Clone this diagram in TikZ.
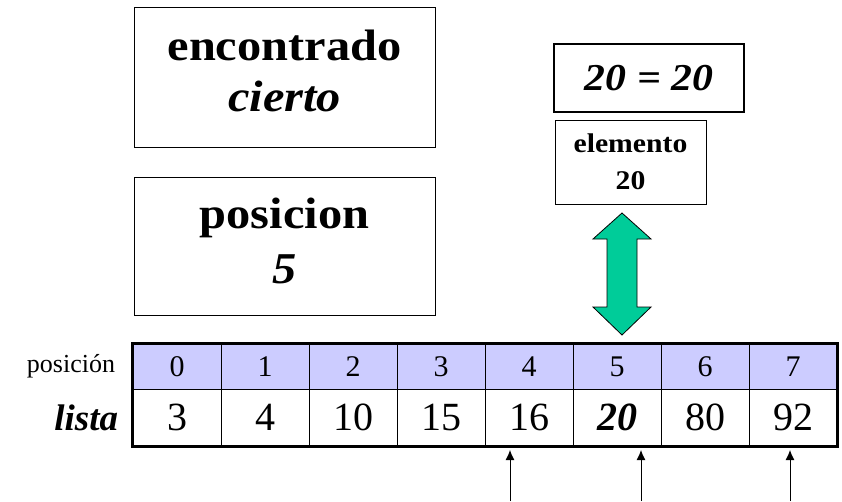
\documentclass[tikz,border=0pt]{standalone}
\usepackage{fontspec}
\usetikzlibrary{arrows.meta,positioning}
\setmainfont{Liberation Serif}
\newfontfamily\anchafont{Liberation Serif}[FakeStretch=1.1]

\definecolor{cabecera}{rgb}{0.8,0.8,1}
\definecolor{flecha}{rgb}{0,0.8,0.6}

\tikzset{
    caja/.style={draw=black, line width=1pt, inner sep=0pt, align=center},
    celda/.style={draw=black, line width=0.8pt, minimum width=88pt, inner sep=0pt},
    cabezal/.style={celda, fill=cabecera, minimum height=45pt, font=\fontsize{30}{32}\selectfont},
    valor/.style={celda, minimum height=57pt, font=\fontsize{40}{42}\selectfont},
    puntero/.style={black, line width=1pt, -{Latex[length=10pt,width=9pt]}}
}

\begin{document}
\begin{tikzpicture}[x=1pt, y=-1pt]
            \useasboundingbox (0,0) rectangle (842,501);

            \node[caja, minimum width=301pt, minimum height=140pt,
                  font=\anchafont\fontsize{44}{51}\selectfont\bfseries] (encontrado) at (284.5,77)
                  {encontrado\\\textit{cierto}\rule[-12pt]{0pt}{0pt}};
            \node[caja, minimum width=301pt, minimum height=138pt,
                  font=\anchafont\fontsize{44}{55}\selectfont\bfseries] (posicion) at (284.5,246)
                  {posicion\\\textit{5}\rule[-10pt]{0pt}{0pt}};
            \node[caja, line width=2.5pt, minimum width=190pt, minimum height=68pt,
                  font=\anchafont\fontsize{38}{44}\selectfont\bfseries\itshape] (compara) at (649,78)
                  {20 = 20};
            \node[caja, minimum width=151pt, minimum height=84pt,
                  font=\anchafont\fontsize{27}{37}\selectfont\bfseries] (elemento) at (630.5,162)
                  {elemento\\20};

            % flecha doble
            \filldraw[fill=flecha, draw=black, line width=0.8pt]
                (622,213) -- (651,239) -- (637,239) -- (637,307) -- (651,307) -- (622,335)
                -- (593,307) -- (607,307) -- (607,239) -- (593,239) -- cycle;

            \foreach \v [count=\i from 0] in {3,4,10,15,16,{\bfseries\itshape 20},80,92} {
                \node[cabezal] (pos\i) at (177+88*\i,366.5) {\i};
                \node[valor] (val\i) at (177+88*\i,417.5) {\v};
            }
            \draw[black, line width=2.5pt] (pos0.north west) rectangle (val7.south east);

            \node[left=14pt of pos0, font=\fontsize{26}{28}\selectfont] (etqpos) {posición};
            \node[left=11pt of val0, font=\fontsize{37}{40}\selectfont\bfseries\itshape] (etqlista) {lista};

            \coordinate (izqpie) at (510,501);
            \coordinate (izqpunta) at (510,450);
            \coordinate (cenpie) at (641,501);
            \coordinate (cenpunta) at (641,450);
            \coordinate (derpie) at (790,501);
            \coordinate (derpunta) at (790,450);
            \draw[puntero] (izqpie) -- (izqpunta);
            \draw[puntero] (cenpie) -- (cenpunta);
            \draw[puntero] (derpie) -- (derpunta);
        \end{tikzpicture}
\end{document}
